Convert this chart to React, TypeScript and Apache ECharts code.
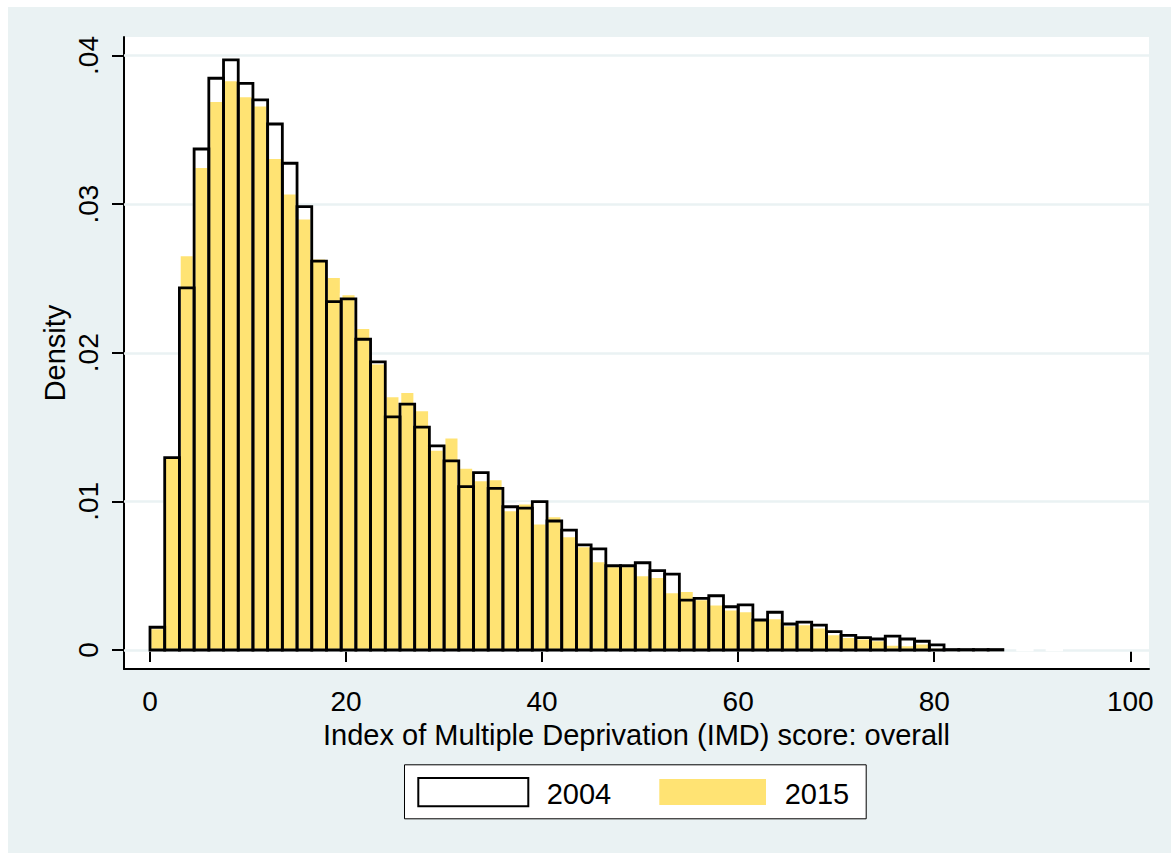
import React, { useEffect, useRef } from "react";
import * as echarts from "echarts";

// Histogram definition
const BIN_START = 0;
const BIN_WIDTH = 1.5;

const SERIES_NAMES = ["2004", "2015"];

// Density per bin (bin i covers [BIN_START + i*BIN_WIDTH, BIN_START + (i+1)*BIN_WIDTH])
const DENSITY_2004 = [
  0.00153, 0.01294, 0.02436, 0.03371, 0.03847, 0.0397, 0.03813, 0.03701, 0.03539, 0.03275,
  0.02983, 0.02617, 0.02344, 0.02362, 0.02091, 0.01938, 0.01568, 0.01655, 0.015, 0.01373,
  0.01272, 0.01099, 0.01193, 0.01088, 0.00964, 0.00955, 0.00998, 0.00868, 0.00807, 0.00707,
  0.0068, 0.00567, 0.00567, 0.00587, 0.00534, 0.00511, 0.00336, 0.00348, 0.00365, 0.00291,
  0.00303, 0.00202, 0.00254, 0.00175, 0.00188, 0.00168, 0.00123, 0.00099, 0.00083, 0.00074,
  0.00094, 0.00074, 0.00059, 0.00034, 0.00003, 0.00003, 0.00003, 0.00003,
];

const DENSITY_2015 = [
  0.00148, 0.01305, 0.02658, 0.03252, 0.03696, 0.03835, 0.03728, 0.03665, 0.03313, 0.03073,
  0.02905, 0.02636, 0.02512, 0.02395, 0.02169, 0.0193, 0.01709, 0.01738, 0.01615, 0.0135,
  0.01431, 0.01229, 0.01144, 0.01151, 0.00942, 0.00987, 0.00853, 0.00902, 0.00767, 0.007,
  0.00599, 0.00565, 0.00565, 0.00505, 0.00493, 0.0039, 0.00399, 0.00343, 0.00308, 0.00274,
  0.00262, 0.00213, 0.00215, 0.00168, 0.00175, 0.00153, 0.00108, 0.0009, 0.00079, 0.00067,
  0.00038, 0.00034, 0.00045, 0.00018, 0.00002, 0.00002, 0.00002, 0.00002, 0, 0.00002,
  0, 0.00002,
];

const X_TITLE = "Index of Multiple Deprivation (IMD) score: overall";
const Y_TITLE = "Density";

const FONT = "'Liberation Sans', Arial, Helvetica, sans-serif";
const YELLOW = "#FFE373";
const BG = "#EAF2F3";
const FS = 29;

const binData = (vals: number[]) =>
  vals.map((v, i) => [BIN_START + i * BIN_WIDTH, BIN_START + (i + 1) * BIN_WIDTH, v]);

const makeRender = (outline: boolean) => (params: any, api: any) => {
  const x0 = api.value(0);
  const x1 = api.value(1);
  const v = api.value(2);
  if (!v) return null;
  const pTop = api.coord([x0, v]);
  const pBot = api.coord([x1, 0]);
  return {
    type: "rect",
    shape: {
      x: pTop[0],
      y: pTop[1],
      width: pBot[0] - pTop[0],
      height: pBot[1] - pTop[1],
    },
    style: outline
      ? { fill: "none", stroke: "#000", lineWidth: 2.8 }
      : { fill: YELLOW, stroke: "#fff", lineWidth: 2.6 },
  };
};

const textStyle = { fontSize: FS, fontFamily: FONT, color: "#000" };

export default function App() {
  const ref = useRef<HTMLDivElement>(null);

  useEffect(() => {
    if (!ref.current) return;
    const chart = echarts.init(ref.current, null, { renderer: "svg" });
    const option: any = {
      animation: false,
      backgroundColor: BG,
      grid: [
        { left: 142, right: 40.7, top: 48.5, bottom: 203, outerBoundsMode: "none" },
        {
          left: 116,
          right: 22,
          top: 30,
          bottom: 184,
          show: true,
          backgroundColor: "#fff",
          borderWidth: 0,
          outerBoundsMode: "none",
        },
        { left: 116, right: 22, top: 48.5, bottom: 203, outerBoundsMode: "none" },
      ],
      xAxis: [
        {
          gridIndex: 0,
          type: "value",
          min: 0,
          max: 100,
          interval: 20,
          offset: 19,
          axisLine: { show: false },
          axisTick: { show: true, length: 12, lineStyle: { color: "#000", width: 2 } },
          axisLabel: { ...textStyle, fontSize: 28, lineHeight: 22, margin: 21.5 },
          splitLine: { show: false },
        },
        {
          gridIndex: 1,
          type: "value",
          min: 0,
          max: 1,
          axisLine: { show: true, onZero: false, lineStyle: { color: "#000", width: 2 } },
          axisTick: { show: false },
          axisLabel: { show: false },
          splitLine: { show: false },
          name: X_TITLE,
          nameLocation: "middle",
          nameGap: 55,
          nameTextStyle: { ...textStyle, lineHeight: 22 },
        },
        {
          gridIndex: 2,
          type: "value",
          min: 0,
          max: 1,
          show: false,
        },
      ],
      yAxis: [
        {
          gridIndex: 0,
          type: "value",
          min: 0,
          max: 0.04,
          interval: 0.01,
          show: false,
        },
        {
          gridIndex: 1,
          type: "value",
          min: 0,
          max: 1,
          axisLine: { show: true, onZero: false, lineStyle: { color: "#000", width: 2 } },
          axisTick: { show: false },
          axisLabel: { show: false },
          splitLine: { show: false },
          name: Y_TITLE,
          nameLocation: "middle",
          nameGap: 55,
          nameTextStyle: textStyle,
        },
        {
          gridIndex: 2,
          type: "value",
          min: 0,
          max: 0.04,
          interval: 0.01,
          z: 1,
          axisLine: { show: false },
          axisTick: { show: true, length: 12, lineStyle: { color: "#000", width: 2 } },
          axisLabel: {
            ...textStyle,
            fontSize: 28,
            rotate: 90,
            margin: 22,
            formatter: (v: number) => (v === 0 ? "0" : v.toFixed(2).replace(/^0/, "")),
          },
          splitLine: { show: true, lineStyle: { color: BG, width: 2.5 } },
        },
      ],
      series: [
        {
          name: SERIES_NAMES[1],
          type: "custom",
          xAxisIndex: 0,
          yAxisIndex: 0,
          z: 3,
          renderItem: makeRender(false),
          encode: { x: [0, 1], y: 2 },
          data: binData(DENSITY_2015),
        },
        {
          name: SERIES_NAMES[0],
          type: "custom",
          xAxisIndex: 0,
          yAxisIndex: 0,
          z: 4,
          renderItem: makeRender(true),
          encode: { x: [0, 1], y: 2 },
          data: binData(DENSITY_2004),
        },
      ],
      graphic: [
        {
          type: "rect",
          z: 10,
          shape: { x: 396.5, y: 757.8, width: 461.7, height: 54 },
          style: { fill: "#fff", stroke: "#000", lineWidth: 1 },
        },
        {
          type: "rect",
          z: 11,
          shape: { x: 410.3, y: 771, width: 110, height: 28.3 },
          style: { fill: "#fff", stroke: "#000", lineWidth: 2 },
        },
        {
          type: "text",
          z: 11,
          x: 538.7,
          y: 787.3,
          style: {
            text: SERIES_NAMES[0],
            fontSize: FS,
            fontFamily: FONT,
            fill: "#000",
            verticalAlign: "middle",
          },
        },
        {
          type: "rect",
          z: 11,
          shape: { x: 651.3, y: 772, width: 106.7, height: 26 },
          style: { fill: YELLOW },
        },
        {
          type: "text",
          z: 11,
          x: 776.7,
          y: 787.3,
          style: {
            text: SERIES_NAMES[1],
            fontSize: FS,
            fontFamily: FONT,
            fill: "#000",
            verticalAlign: "middle",
          },
        },
      ],
    };
    chart.setOption(option);
    return () => chart.dispose();
  }, []);

  return (
    <div
      ref={ref}
      style={{ position: "absolute", left: 8, top: 7, width: 1163, height: 846 }}
    />
  );
}
